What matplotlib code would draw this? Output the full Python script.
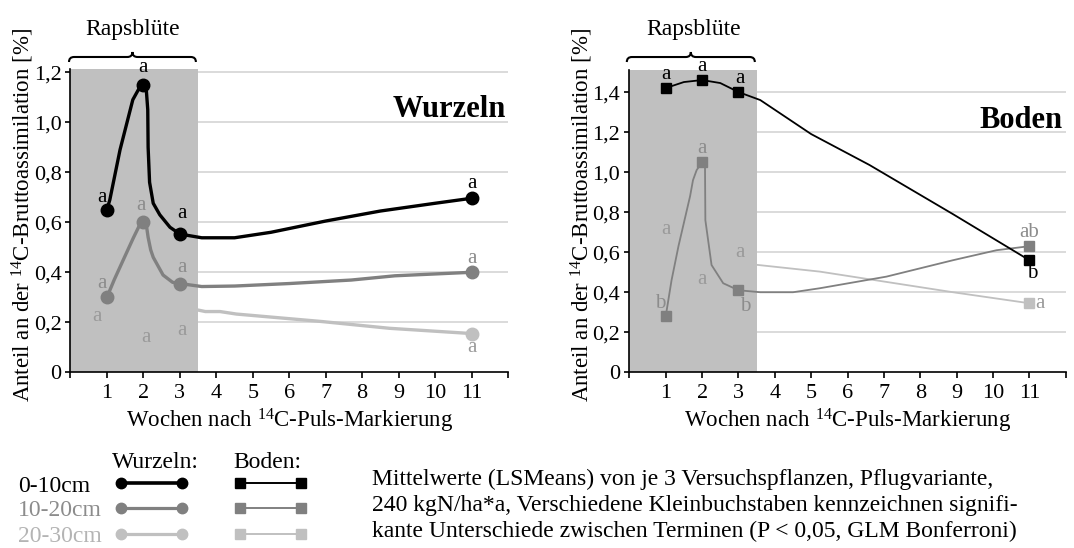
import matplotlib.pyplot as plt
from matplotlib.path import Path
from matplotlib.patches import PathPatch

plt.rcParams['font.family'] = ['Liberation Serif', 'DejaVu Serif']
plt.rcParams['mathtext.fontset'] = 'custom'
plt.rcParams['mathtext.rm'] = 'Liberation Serif'
plt.rcParams['mathtext.it'] = 'Liberation Serif:italic'
plt.rcParams['mathtext.bf'] = 'Liberation Serif:bold'

# sampling weeks (markers)
weeks = [1, 2, 3, 11]

# Wurzeln, marker values per depth
wurzeln_0_10 = [0.65, 1.15, 0.553, 0.696]
wurzeln_10_20 = [0.30, 0.60, 0.355, 0.40]
wurzeln_20_30 = [0.265, 0.185, 0.225, 0.155]

# Boden, marker values per depth
boden_0_10 = [1.42, 1.46, 1.40, 0.56]
boden_10_20 = [0.28, 1.05, 0.41, 0.63]
boden_20_30 = [0.66, 0.52, 0.55, 0.345]

# smoothed connecting lines (vertices of the drawn curves)
w0_line_x = [1, 1.08, 1.36, 1.71, 1.9, 2.0, 2.08, 2.12, 2.13, 2.17, 2.27, 2.45, 2.73, 3.0,
             3.6, 4.5, 5.5, 7.0, 8.5, 10.0, 11]
w0_line_y = [0.65, 0.69, 0.89, 1.09, 1.14, 1.15, 1.13, 1.05, 0.90, 0.76, 0.676, 0.63, 0.58, 0.553,
             0.538, 0.538, 0.56, 0.605, 0.645, 0.676, 0.696]
w1_line_x = [1, 1.2, 1.45, 1.72, 1.9, 2.0, 2.08, 2.13, 2.2, 2.27, 2.54, 2.8, 3.0, 3.6, 4.5, 6.0,
             7.7, 8.9, 11]
w1_line_y = [0.30, 0.37, 0.45, 0.536, 0.59, 0.60, 0.59, 0.54, 0.49, 0.46, 0.389, 0.36, 0.355,
             0.343, 0.345, 0.355, 0.369, 0.386, 0.40]
w2_line_x = [1, 2, 3, 3.5, 3.7, 4.1, 4.55, 6.9, 8.75, 11]
w2_line_y = [0.265, 0.185, 0.225, 0.249, 0.243, 0.243, 0.233, 0.203, 0.176, 0.155]

b0_line_x = [1, 1.5, 2, 2.5, 3, 3.6, 5.0, 6.6, 8.9, 11]
b0_line_y = [1.42, 1.45, 1.46, 1.445, 1.40, 1.36, 1.19, 1.036, 0.79, 0.56]
b1_line_x = [1, 1.16, 1.35, 1.67, 1.75, 1.85, 2.0, 2.08, 2.09, 2.26, 2.58, 3.0, 3.6, 4.5, 5.24,
             7.07, 8.9, 10.1, 11]
b1_line_y = [0.28, 0.46, 0.63, 0.88, 0.96, 1.01, 1.05, 1.03, 0.76, 0.536, 0.445, 0.41, 0.40, 0.40,
             0.42, 0.478, 0.56, 0.61, 0.63]
b2_line_x = [1, 2, 3, 3.5, 5.24, 8.9, 11]
b2_line_y = [0.66, 0.52, 0.55, 0.537, 0.503, 0.40, 0.345]

# significance letters: (x, y, letter)
w0_letters = [(0.85, 0.70, 'a'), (2.0, 1.22, 'a'), (3.06, 0.636, 'a'), (11.0, 0.756, 'a')]
w1_letters = [(0.85, 0.356, 'a'), (1.93, 0.669, 'a'), (3.06, 0.418, 'a'), (11.0, 0.456, 'a')]
w2_letters = [(0.73, 0.222, 'a'), (2.06, 0.14, 'a'), (3.05, 0.169, 'a'), (11.0, 0.10, 'a')]
b0_letters = [(1.0, 1.486, 'a'), (2.0, 1.528, 'a'), (3.03, 1.47, 'a'), (11.08, 0.495, 'b')]
b1_letters = [(0.85, 0.345, 'b'), (2.0, 1.12, 'a'), (3.18, 0.328, 'b'), (11.0, 0.70, 'ab')]
b2_letters = [(1.0, 0.715, 'a'), (2.0, 0.466, 'a'), (3.03, 0.598, 'a'), (11.3, 0.345, 'a')]

depths = ['0-10cm', '10-20cm', '20-30cm']
line_colors = ['#000000', '#808080', '#c0c0c0']
letter_colors = ['#000000', '#8c8c8c', '#9a9a9a']
depth_text_colors = ['#000000', '#8c8c8c', '#b4b4b4']

ylabel = r'Anteil an der $^{14}$C-Bruttoassimilation [%]'
xlabel = r'Wochen nach $^{14}$C-Puls-Markierung'


def setup_axis(ax, ymax, yticks):
    ax.set_xlim(0, 12)
    ax.set_ylim(0, ymax)
    ax.axvspan(0, 3.5, color='#c0c0c0', lw=0, zorder=1)
    for y in yticks[1:]:
        ax.axhline(y, color='#d4d4d4', lw=1.2, zorder=0)
    ax.set_xticks(range(13))
    ax.set_xticklabels([''] + [str(i) for i in range(1, 12)] + [''])
    ax.set_yticks(yticks)
    ax.set_yticklabels(['0' if t == 0 else f'{t:.1f}'.replace('.', ',') for t in yticks])
    for side in ['top', 'right']:
        ax.spines[side].set_visible(False)
    for side in ['left', 'bottom']:
        ax.spines[side].set_linewidth(1.2)
        ax.spines[side].set_zorder(5)
    ax.tick_params(direction='out', length=3.5, width=1.2, labelsize=16, pad=3)
    ax.tick_params(axis='x', length=4.5, pad=4)
    ax.set_xlabel(xlabel, fontsize=16.5, labelpad=3)
    ax.set_ylabel(ylabel, fontsize=16.5, labelpad=0)
    ax.yaxis.set_label_coords(-0.079, 0.52)


def draw_brace(ax, x0, x1, y0, h, r):
    xm = (x0 + x1) / 2
    ym = y0 + h / 2
    verts = [(x0, y0), (x0, ym), (x0 + r, ym),
             (xm - r, ym),
             (xm, ym), (xm, y0 + h),
             (xm, ym), (xm + r, ym),
             (x1 - r, ym),
             (x1, ym), (x1, y0)]
    codes = [Path.MOVETO, Path.CURVE3, Path.CURVE3,
             Path.LINETO,
             Path.CURVE3, Path.CURVE3,
             Path.CURVE3, Path.CURVE3,
             Path.LINETO,
             Path.CURVE3, Path.CURVE3]
    ax.add_patch(PathPatch(Path(verts, codes), fill=False, lw=1.5, color='black', clip_on=False))


def put_letters(ax, letters, color):
    for x, y, s in letters:
        ax.text(x, y, s, color=color, fontsize=15, ha='center', va='center', zorder=6, clip_on=False)


fig = plt.figure(figsize=(10.74, 5.48), dpi=100)
ax1 = fig.add_axes([0.0656, 0.3206, 0.4074, 0.5535])
ax2 = fig.add_axes([0.586, 0.3206, 0.4063, 0.5516])

# Wurzeln
setup_axis(ax1, 1.213, [0, 0.2, 0.4, 0.6, 0.8, 1.0, 1.2])
w_lines = [(w0_line_x, w0_line_y), (w1_line_x, w1_line_y), (w2_line_x, w2_line_y)]
w_vals = [wurzeln_0_10, wurzeln_10_20, wurzeln_20_30]
w_letters = [w0_letters, w1_letters, w2_letters]
for i in [2, 1, 0]:
    lx, ly = w_lines[i]
    ax1.plot(lx, ly, color=line_colors[i], lw=2.4, zorder=3, solid_capstyle='round')
    ax1.plot(weeks, w_vals[i], 'o', color=line_colors[i], ms=9, zorder=4, clip_on=False)
    put_letters(ax1, w_letters[i], letter_colors[i])
ax1.text(11.95, 1.05, 'Wurzeln', fontsize=22, fontweight='bold', ha='right', va='center')
draw_brace(ax1, -0.04, 3.44, 1.241, 0.04, 0.14)
ax1.text(1.7, 1.37, 'Rapsblüte', fontsize=17, ha='center', va='center', clip_on=False)

# Boden
setup_axis(ax2, 1.51, [0, 0.2, 0.4, 0.6, 0.8, 1.0, 1.2, 1.4])
b_lines = [(b0_line_x, b0_line_y), (b1_line_x, b1_line_y), (b2_line_x, b2_line_y)]
b_vals = [boden_0_10, boden_10_20, boden_20_30]
b_letters = [b0_letters, b1_letters, b2_letters]
for i in [2, 1, 0]:
    lx, ly = b_lines[i]
    ax2.plot(lx, ly, color=line_colors[i], lw=1.3, zorder=3)
    ax2.plot(weeks, b_vals[i], 's', color=line_colors[i], ms=6.8, zorder=4, clip_on=False)
    put_letters(ax2, b_letters[i], letter_colors[i])
ax2.text(11.9, 1.26, 'Boden', fontsize=22, fontweight='bold', ha='right', va='center')
draw_brace(ax2, -0.07, 3.45, 1.55, 0.05, 0.14)
ax2.text(1.76, 1.71, 'Rapsblüte', fontsize=17, ha='center', va='center', clip_on=False)

# key and note below the plots, in pixel coordinates
lax = fig.add_axes([0, 0, 1, 1])
lax.set_xlim(0, 1074)
lax.set_ylim(548, 0)
lax.axis('off')
lax.text(155, 462, 'Wurzeln:', fontsize=17, ha='center', va='center')
lax.text(267, 462, 'Boden:', fontsize=17, ha='center', va='center')
key_rows = [486, 511, 537]
for i, name in enumerate(depths):
    y = key_rows[i]
    lax.text(18, y, name, fontsize=17, color=depth_text_colors[i], ha='left', va='center')
    lw = 2.6 if i == 0 else 2.3
    lax.plot([121, 182], [y - 3, y - 3], '-o', color=line_colors[i], lw=lw, ms=7.5)
    lax.plot([240, 301], [y - 3, y - 3], '-s', color=line_colors[i], lw=1.4, ms=7)

note = ['Mittelwerte (LSMeans) von je 3 Versuchspflanzen, Pflugvariante,',
        '240 kgN/ha*a, Verschiedene Kleinbuchstaben kennzeichnen signifi-',
        'kante Unterschiede zwischen Terminen (P < 0,05, GLM Bonferroni)']
for j, line in enumerate(note):
    lax.text(372, 479 + j * 26, line, fontsize=17, ha='left', va='center')

fig.savefig('out.png', dpi=100)
